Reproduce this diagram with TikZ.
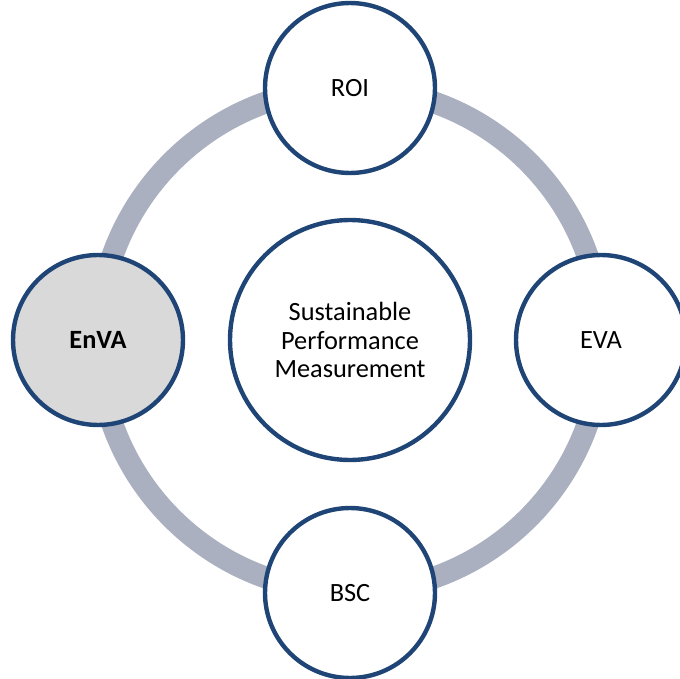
\documentclass[tikz,border=0pt]{standalone}
\usepackage{fontspec}
\setmainfont{Carlito}
\definecolor{ringgray}{RGB}{170,176,192}
\definecolor{rimblue}{RGB}{31,69,119}
\definecolor{envafill}{RGB}{217,217,217}
\tikzset{
  bubble/.style={circle,draw=rimblue,line width=2.5pt,fill=white,minimum size=3.4cm,inner sep=0pt,font=\fontsize{15}{16}\selectfont,align=center},
  hub/.style={bubble,minimum size=4.8cm},
  ringline/.style={draw=ringgray,line width=12.5pt}
}
\begin{document}
\begin{tikzpicture}[x=0.02cm,y=-0.02cm]
\useasboundingbox (0,0) rectangle (680,679);
\coordinate (c) at (350,340);
\draw[ringline] (c) circle (5.04cm);
\node[hub] (spm) at (c) {Sustainable\\Performance\\Measurement};
\node[bubble] (roi) at (350,88) {ROI};
\node[bubble] (eva) at (601,340) {EVA};
\node[bubble] (bsc) at (350,593) {BSC};
\node[bubble,fill=envafill,font=\fontsize{15}{16}\selectfont\bfseries] (enva) at (98,340) {EnVA};
\end{tikzpicture}
\end{document}
